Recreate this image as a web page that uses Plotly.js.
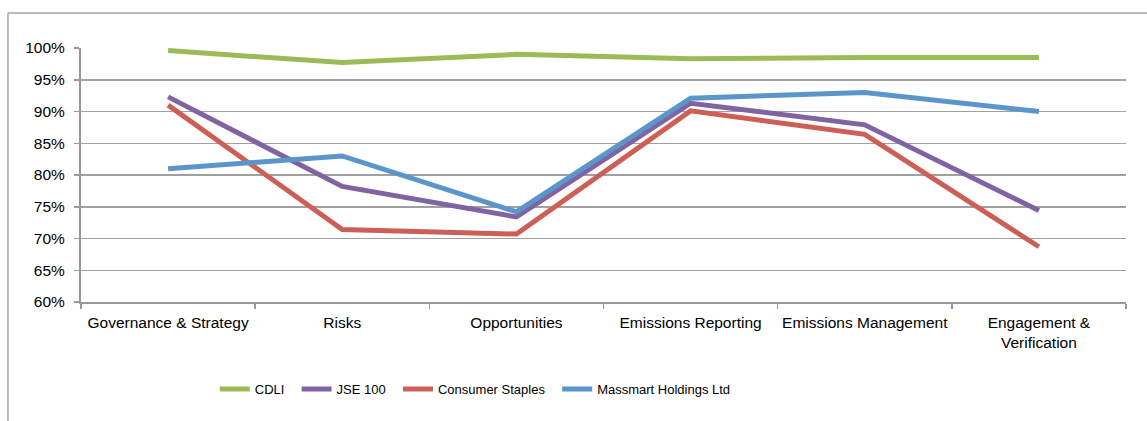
<!DOCTYPE html>
<html>
<head>
<meta charset="utf-8">
<script src="https://cdn.plot.ly/plotly-3.0.1.min.js"></script>
<style>html,body{margin:0;padding:0;background:#fff;}#chart{width:1147px;height:421px;}</style>
</head>
<body>
<div id="chart"></div>
<script>
const categories = ["Governance & Strategy", "Risks", "Opportunities", "Emissions Reporting", "Emissions Management", "Engagement &<br>Verification"];
const seriesNames = ["CDLI", "JSE 100", "Consumer Staples", "Massmart Holdings Ltd"];
const cdli = [99.6, 97.7, 99.0, 98.3, 98.5, 98.5];
const jse100 = [92.3, 78.2, 73.4, 91.3, 87.9, 74.4];
const consumerStaples = [91.0, 71.4, 70.7, 90.1, 86.4, 68.7];
const massmart = [81.0, 83.0, 74.2, 92.1, 93.0, 90.0];
const yTicks = [60, 65, 70, 75, 80, 85, 90, 95, 100];
const colors = ["#9bbb59", "#8064a2", "#cd5f56", "#5b96cb"];

const allSeries = [cdli, jse100, consumerStaples, massmart];
const pad = "\u00a0\u00a0";
const traces = allSeries.map((vals, i) => ({
  x: categories, y: vals, name: seriesNames[i] + pad, type: "scatter", mode: "lines",
  line: {color: colors[i], width: 5}
}));

const layout = {
  width: 1147, height: 421,
  margin: {l: 81, r: 21, t: 48, b: 119},
  paper_bgcolor: "#fff", plot_bgcolor: "#fff",
  font: {family: "Liberation Sans, Arial, sans-serif", size: 15.5, color: "#000"},
  showlegend: true,
  legend: {orientation: "h", x: 0.128, xanchor: "left", y: -0.3425, yanchor: "middle",
           font: {size: 13}, traceorder: "normal"},
  xaxis: {type: "category", showgrid: false, showline: true, linecolor: "#999", linewidth: 2,
          ticks: "outside", tickson: "boundaries", ticklen: 5, tickcolor: "#999", tickwidth: 1.5,
          ticklabelstandoff: 5, tickangle: 0, automargin: false,
          range: [-0.5, 5.5], zeroline: false, fixedrange: true},
  yaxis: {range: [60, 100], tickvals: yTicks, ticktext: yTicks.map(v => v + "%"),
          showgrid: true, gridcolor: "#a0a0a0", gridwidth: 1.5,
          showline: true, linecolor: "#999", linewidth: 2, automargin: false,
          ticks: "outside", ticklen: 5, tickcolor: "#999", tickwidth: 1.5, zeroline: false,
          ticklabelstandoff: 6},
  shapes: [
    {type: "line", xref: "paper", yref: "paper", x0: -0.0699, x1: -0.0699, y0: 1.138, y1: -0.5,
     line: {color: "#a6a6a6", width: 1.5}},
    {type: "line", xref: "paper", yref: "paper", x0: -0.0699, x1: 1.1, y0: 1.138, y1: 1.138,
     line: {color: "#a6a6a6", width: 1.5}}
  ]
};
Plotly.newPlot("chart", traces, layout, {displayModeBar: false, staticPlot: true});
</script>
</body>
</html>
